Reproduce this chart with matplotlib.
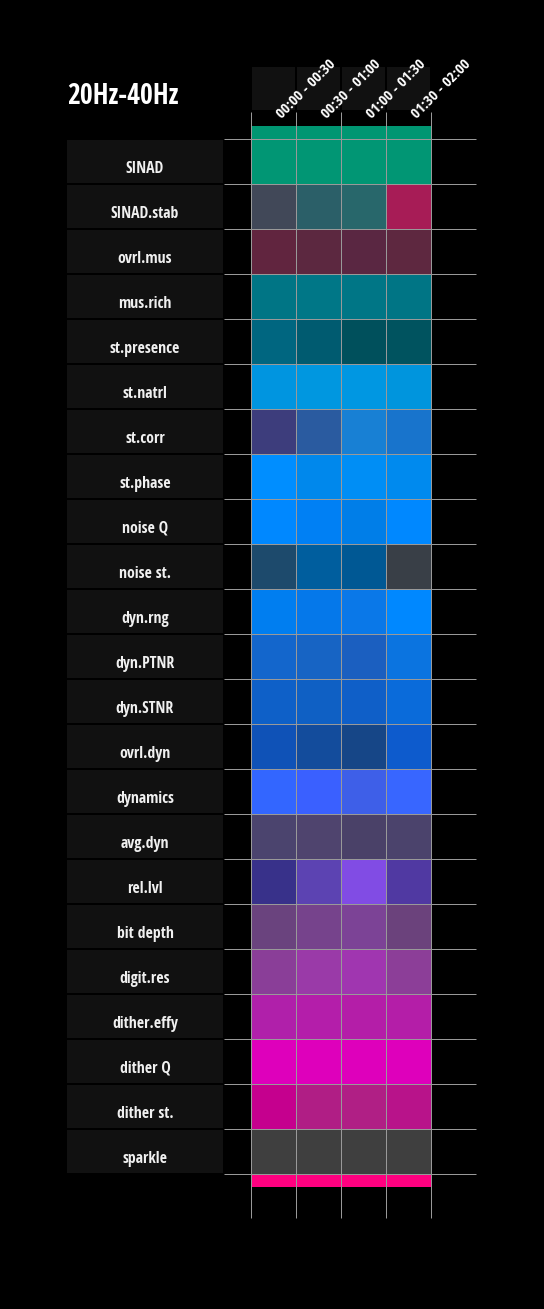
import matplotlib
matplotlib.use("Agg")
import matplotlib.pyplot as plt
from matplotlib.patches import Rectangle

DPI = 100
WIDTH_PX = 544
HEIGHT_PX = 1309
CELL_PX = 45  # one grid cell, in pixels

# ── data ──
title = "20Hz-40Hz"
slots = ["00:00 - 00:30", "00:30 - 01:00", "01:00 - 01:30", "01:30 - 02:00"]
metrics = ["SINAD", "SINAD.stab", "ovrl.mus", "mus.rich", "st.presence",
           "st.natrl", "st.corr", "st.phase", "noise Q", "noise st.",
           "dyn.rng", "dyn.PTNR", "dyn.STNR", "ovrl.dyn", "dynamics",
           "avg.dyn", "rel.lvl", "bit depth", "digit.res", "dither.effy",
           "dither Q", "dither st.", "sparkle"]
cell_colors = [
    ["#019674", "#019674", "#019674", "#019674"],
    ["#414858", "#2b5f68", "#28676b", "#a71c56"],
    ["#61253f", "#5c2840", "#5a2742", "#5e2840"],
    ["#007585", "#007787", "#007686", "#007585"],
    ["#006680", "#005b70", "#00505c", "#00535f"],
    ["#0095e0", "#0097e0", "#0097e2", "#0095dd"],
    ["#3d3d7c", "#2a5ba0", "#1880d4", "#1874cc"],
    ["#008eff", "#0088ec", "#008ef5", "#008aee"],
    ["#0088ff", "#0080f4", "#007ee8", "#0088ff"],
    ["#1d4a6c", "#005e9e", "#005894", "#393f47"],
    ["#007ef0", "#0578ea", "#0a78e8", "#0088ff"],
    ["#1366cc", "#1764c4", "#1b5fc0", "#0b74e0"],
    ["#0e60c8", "#0f60c4", "#0f5fc8", "#0a6bda"],
    ["#0f52b7", "#134c9c", "#164687", "#0d5bcd"],
    ["#3366ff", "#3a60ff", "#3e5fe8", "#3866ff"],
    ["#4b446e", "#4f446e", "#4a4168", "#4b436c"],
    ["#38318a", "#5c43b2", "#814ce4", "#5039a2"],
    ["#6a437e", "#76438c", "#7c4396", "#6b427c"],
    ["#8a3e98", "#9a3aa8", "#a036b0", "#8c3e98"],
    ["#b020aa", "#b41eaa", "#b41ea8", "#b41ea8"],
    ["#de00bb", "#de00bb", "#de00bb", "#de00bb"],
    ["#c5008e", "#b01e85", "#b01f85", "#b8138a"],
    ["#3f3f3f", "#3f3f3f", "#3f3f3f", "#3f3f3f"],
]
top_strip = "#009672"
bottom_strip = "#ff0080"

FONT = ["Open Sans Condensed", "Liberation Sans Narrow", "DejaVu Sans"]
GRID = "#999999"
PANEL = "#111111"

n_rows = len(metrics)
n_cols = len(slots)

fig = plt.figure(figsize=(WIDTH_PX / DPI, HEIGHT_PX / DPI), dpi=DPI, facecolor="black")
ax = fig.add_axes([0, 0, 1, 1])
ax.set_facecolor("black")
ax.axis("off")
# axes in cell units: x=0 at the first column, y=0 at the first row line
x0_px, y0_px = 251, 139
ax.set_xlim(-x0_px / CELL_PX, (WIDTH_PX - x0_px) / CELL_PX)
ax.set_ylim((HEIGHT_PX - y0_px) / CELL_PX, -y0_px / CELL_PX)

# ── cells ──
for i, row in enumerate(cell_colors):
    for j, c in enumerate(row):
        ax.add_patch(Rectangle((j, i), 1, 1, facecolor=c, edgecolor="none", zorder=1))

# strips above / below the grid
strip_h = 13 / CELL_PX
for j in range(n_cols):
    ax.add_patch(Rectangle((j, -strip_h), 1, strip_h, facecolor=top_strip,
                           edgecolor="none", zorder=1))
    ax.add_patch(Rectangle((j, n_rows), 1, strip_h, facecolor=bottom_strip,
                           edgecolor="none", zorder=1))

# ── grid lines ──
lw = 72 / DPI
for i in range(n_rows + 1):
    ax.plot([-0.6, n_cols + 1], [i, i], color=GRID, lw=lw, zorder=2,
            solid_capstyle="butt")
for j in range(n_cols + 1):
    ax.plot([j, j], [-0.6, n_rows + 0.98], color=GRID, lw=lw, zorder=2,
            solid_capstyle="butt")

# ── row labels ──
lab_left, lab_right = -184 / CELL_PX, -28 / CELL_PX
for i, name in enumerate(metrics):
    ax.add_patch(Rectangle((lab_left, i + 0.02), lab_right - lab_left, 0.96,
                           facecolor=PANEL, edgecolor="none", zorder=1))
    ax.text((lab_left + lab_right) / 2, i + 0.66, name, ha="center", va="center",
            color="#f0f0f0", fontsize=11.3, fontweight="bold", family=FONT,
            fontstretch="condensed", zorder=3)

# ── column header ──
for j in range(n_cols):
    ax.add_patch(Rectangle((j + 0.02, -1.6), 0.96, 0.956, facecolor=PANEL,
                           edgecolor="none", zorder=1))
for j, lab in enumerate(slots):
    ax.text(j + 0.74, -0.39, lab, rotation=45, rotation_mode="anchor",
            ha="left", va="bottom", color="white", fontsize=11,
            fontweight="bold", family=FONT, fontstretch="condensed", zorder=3)

# ── title ──
ax.text(lab_left, -0.95, title, ha="left", va="center", color="white",
        fontsize=20, fontweight="bold", family=FONT, fontstretch="condensed")

fig.savefig("out.png", dpi=DPI, facecolor="black")
